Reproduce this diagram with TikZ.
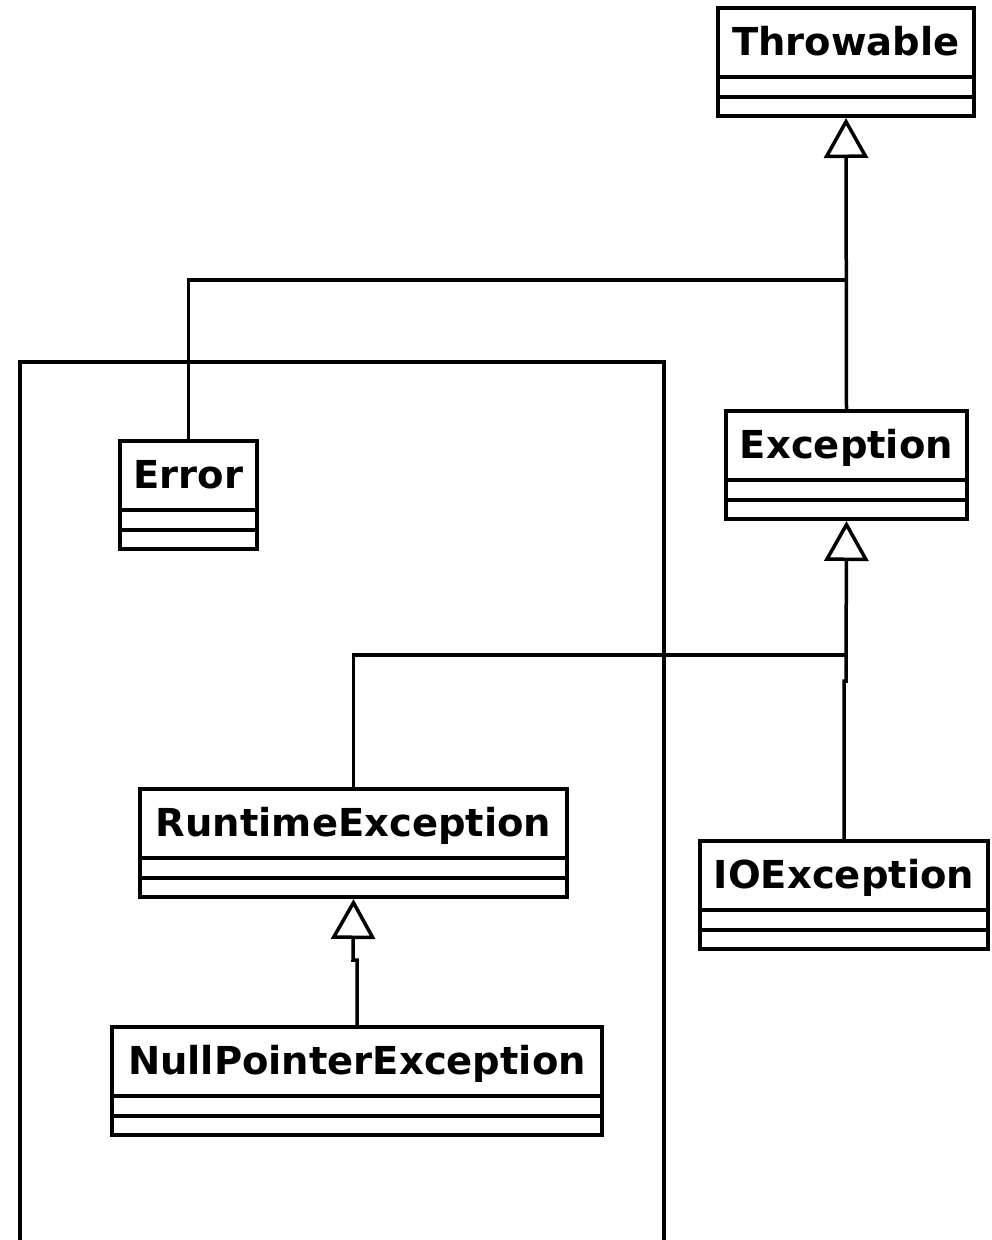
\documentclass[tikz,border=0pt]{standalone}
\usepackage{fontspec}
\setmainfont{DejaVu Sans}
\usetikzlibrary{arrows.meta}

\tikzset{
	umlline/.style={line width=3.5pt},
	umlclass/.style={draw, umlline, anchor=north west, inner sep=0pt, outer sep=0pt,
		text height=47.6pt, text depth=60.4pt, font=\bfseries\fontsize{38.5}{42}\selectfont},
	inherits/.style={umlline, -{Triangle[open, length=40pt, width=44pt, line width=3.5pt]}}
}

\begin{document}
\begin{tikzpicture}[x=1pt, y=-1pt]
	\useasboundingbox (0,0) rectangle (991,1240);

	% package frame, open at the bottom
	\draw [umlline] (20,1240) |- (664,362) -- (664,1240);

	\node [umlclass, minimum width=256pt] (throwable) at (718,8) {Throwable};
	\node [umlclass, minimum width=241pt] (exception) at (726,411) {Exception};
	\node [umlclass, minimum width=137pt] (error) at (120,441) {Error};
	\node [umlclass, minimum width=427pt] (runtime) at (140,789) {RuntimeException};
	\node [umlclass, minimum width=288pt] (io) at (700,841) {IOException};
	\node [umlclass, minimum width=490pt] (npe) at (112,1027) {NullPointerException};

	% attribute and operation compartments
	\foreach \c in {throwable, exception, error, runtime, io, npe} {
		\draw [umlline] ([yshift=-69pt]\c.north west) -- ([yshift=-69pt]\c.north east)
			([yshift=-89pt]\c.north west) -- ([yshift=-89pt]\c.north east);
	}

	\coordinate (tjoin) at (846,280);
	\coordinate (ejoin) at (846,655);
	\coordinate (ejog) at (846,681);
	\coordinate (rjog) at (353,960);

	\draw [inherits] (exception.north) -- ([yshift=-2pt]throwable.south);
	\draw [umlline] (error.north) |- (tjoin);

	\draw [inherits] (io.north) |- (ejog) -- ([yshift=-2pt]exception.south);
	\draw [umlline] (runtime.north) |- (ejoin);

	\draw [inherits] (npe.north) |- (rjog) -- ([yshift=-2pt]runtime.south);
\end{tikzpicture}
\end{document}
